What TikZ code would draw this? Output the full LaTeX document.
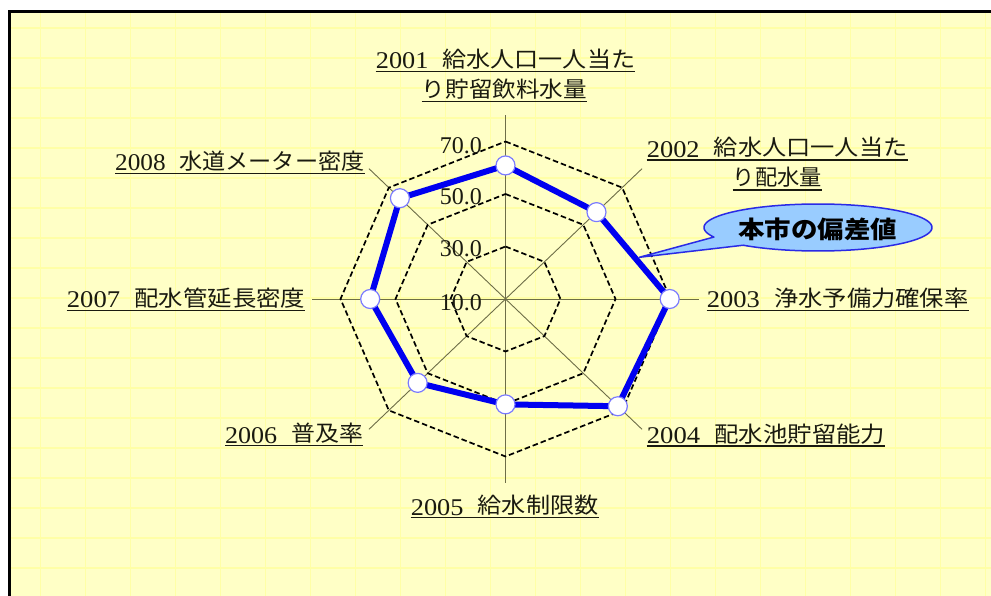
\documentclass[tikz,border=0pt]{standalone}
\usepackage{fontspec}
\usepackage{graphicx}
\setmainfont{Liberation Serif}
\newfontfamily\cjk{Noto Sans CJK JP}
\definecolor{bg}{HTML}{FFFFC6}
\definecolor{bgline}{HTML}{FFFFA6}
\definecolor{txt}{HTML}{1A1A10}
\definecolor{spoke}{HTML}{6E6E48}
\definecolor{dblue}{HTML}{0000F0}
\definecolor{mk}{HTML}{7A7AFF}
\definecolor{cfill}{HTML}{99CCFF}
\definecolor{cedge}{HTML}{2A2AE6}
\newcommand\numlab[3]{\resizebox{#1pt}{\height}{{\fontsize{24}{24}\selectfont #2}\hspace{13pt}{\cjk\fontsize{22}{22}\selectfont\raisebox{1.5pt}{#3}}}}
\newcommand\jlab[2]{\resizebox{#1pt}{\height}{\cjk\fontsize{22}{22}\selectfont\raisebox{1.5pt}{#2}}}
\begin{document}
\begin{tikzpicture}[x=1pt,y=-1pt,
  lab/.style={anchor=base west,inner sep=0pt,text=txt},
  uline/.style={draw=txt,line width=1.3pt},
  ring/.style={draw=black,line width=1.7pt,dash pattern=on 5.5pt off 3pt,line join=miter},
  spk/.style={draw=spoke,line width=0.9pt},
  dline/.style={draw=dblue,line width=6pt,line join=round},
  marker/.style={circle,fill=white,draw=mk,line width=1.2pt,minimum size=19pt,inner sep=0pt},
  rlab/.style={anchor=base east,inner sep=0pt,font=\fontsize{24}{24}\selectfont,text=txt},
]
\useasboundingbox (0,0) rectangle (991,596);
\fill[white] (0,0) rectangle (991,596);
\fill[bg] (9,11) rectangle (991,596);
\foreach \y in {28,58,...,596} \draw[bgline,line width=2pt] (10,\y) -- (991,\y);
\foreach \x in {40,85,...,991} \draw[bgline,line width=0.8pt] (\x,12) -- (\x,596);
\draw[black,line width=3.2pt] (9.2,596) -- (9.2,11.2) -- (991,11.2);

\def\RX{165}\def\RY{157.5}
\coordinate (O) at (505.5,299);
\foreach \k in {0,...,7} {
  \coordinate (s\k) at ({505.5+\RX*1.17*sin(45*\k)},{299-\RY*1.17*cos(45*\k)});
  \draw[spk] (O) -- (s\k);
}
\foreach \f [count=\i] in {0.3333,0.6667,1} {
  \foreach \k in {0,...,7} \coordinate (r\i-\k) at ({505.5+\RX*\f*sin(45*\k)},{299-\RY*\f*cos(45*\k)});
  \draw[ring] (r\i-0) -- (r\i-1) -- (r\i-2) -- (r\i-3) -- (r\i-4) -- (r\i-5) -- (r\i-6) -- (r\i-7) -- cycle;
}
\node[rlab] (v70) at (482,153.3) {70.0};
\node[rlab] (v50) at (482,205) {50.0};
\node[rlab] (v30) at (482,256.7) {30.0};
\node[rlab] (v10) at (482,310) {10.0};

\foreach \k/\f in {0/0.848,1/0.78,2/0.995,3/0.963,4/0.669,5/0.753,6/0.82,7/0.905}
  \coordinate (d\k) at ({505.5+\RX*\f*sin(45*\k)},{299-\RY*\f*cos(45*\k)});
\draw[dline] (d0) -- (d1) -- (d2) -- (d3) -- (d4) -- (d5) -- (d6) -- (d7) -- cycle;
\foreach \k in {0,...,7} \node[marker] (m\k) at (d\k) {};

\node[lab] (l1a) at (375.7,69) {\numlab{259.3}{2001}{給水人口一人当た}};
\node[lab] (l1b) at (421.7,99) {\jlab{165}{り貯留飲料水量}};
\node[lab] (l2a) at (646.7,157.5) {\numlab{260.6}{2002}{給水人口一人当た}};
\node[lab] (l2b) at (732.7,187.5) {\jlab{89}{り配水量}};
\node[lab] (l3) at (706.7,308) {\numlab{261.6}{2003}{浄水予備力確保率}};
\node[lab] (l4) at (646.7,443.5) {\numlab{238.3}{2004}{配水池貯留能力}};
\node[lab] (l5) at (410.7,515) {\numlab{187.6}{2005}{給水制限数}};
\node[lab] (l6) at (225,443) {\numlab{137.7}{2006}{普及率}};
\node[lab] (l7) at (66.7,308) {\numlab{238.3}{2007}{配水管延長密度}};
\node[lab] (l8) at (115,171) {\numlab{249.3}{2008}{水道メーター密度}};
\foreach \n in {l1a,l1b,l2a,l2b,l3,l4,l5,l6,l7,l8}
  \draw[uline] ([yshift=-2.5pt]\n.base west) -- ([yshift=-2.5pt]\n.base east);

\coordinate (tip) at (639.3,257.3);
\draw[fill=cfill,draw=cedge,line width=1.5pt,line join=round]
  plot[domain=156:491,samples=120,variable=\t] ({818+114*cos(\t)},{227.5+23.5*sin(\t)}) -- (tip) -- cycle;
\node[inner sep=0pt] (callout) at (817.5,229.5) {\resizebox{159pt}{\height}{\cjk\bfseries\fontsize{24}{24}\selectfont 本市の偏差値}};
\end{tikzpicture}
\end{document}
